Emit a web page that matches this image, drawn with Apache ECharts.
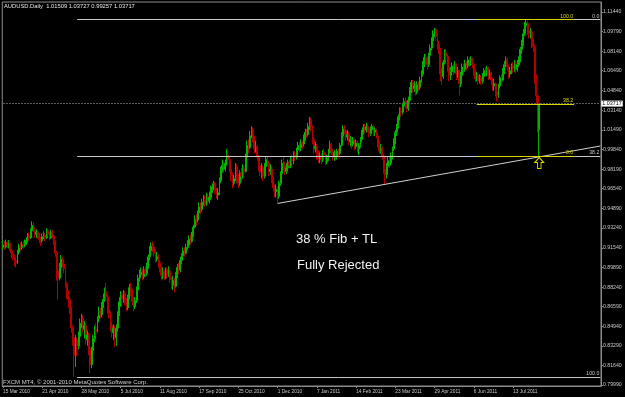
<!DOCTYPE html>
<html>
<head>
<meta charset="utf-8">
<script src="https://cdn.jsdelivr.net/npm/echarts@6/dist/echarts.min.js"></script>
<style>
html,body{margin:0;padding:0;background:#000;}
#chart{width:625px;height:397px;}
</style>
</head>
<body>
<div id="chart"></div>
<script>
// ---- DATA (prices in pips, 1 pip = 0.0001) ----
const symbolName = 'AUDUSD.Daily';
const firstOpen = 9160;
const closes = [
9180,9165,9200,9175,9190,9130,9100,9080,9045,9030,
9120,9170,9160,9185,9175,9195,9220,9255,9240,9300,
9345,9310,9270,9285,9260,9225,9215,9250,9265,9240,
9300,9270,9240,9290,9255,9210,9110,8960,8900,8990,
9060,9020,8980,8850,8760,8720,8650,8480,8400,8250,
8380,8330,8410,8520,8560,8470,8500,8380,8420,8300,
8170,8290,8390,8470,8450,8560,8620,8590,8680,8720,
8790,8740,8640,8600,8500,8440,8480,8400,8480,8600,
8700,8760,8720,8770,8700,8650,8740,8820,8790,8700,
8660,8710,8800,8900,8930,8950,8910,8970,8940,9000,
9080,9130,9170,9160,9110,9060,9080,9030,8980,8920,
8950,8900,8970,8930,8960,8890,8840,8880,8830,8930,
8990,8970,9050,9090,9130,9110,9160,9180,9230,9210,
9270,9330,9400,9390,9450,9500,9480,9540,9560,9520,
9590,9550,9580,9650,9670,9700,9640,9600,9620,9720,
9810,9850,9820,9870,9940,9900,9820,9760,9700,9740,
9840,9760,9700,9790,9760,9820,9800,9920,10020,10000,
10100,10150,10080,9990,10010,9920,9850,9790,9830,9760,
9840,9900,9870,9800,9820,9740,9660,9630,9650,9590,
9700,9780,9870,9850,9800,9830,9880,9850,9900,9890,
9940,9920,9980,10020,10000,10040,10030,10090,10130,10110,
10180,10230,10180,10070,9990,10010,9940,9900,9930,9900,
9960,9940,9880,9910,9960,10030,9970,9920,9960,9930,
9970,9950,10020,10100,10160,10140,10090,10110,10050,10070,
10030,10060,10010,10040,9990,10020,10070,10130,10170,10150,
10180,10160,10120,10150,10180,10130,10150,10100,10030,9970,
9990,9930,9820,9770,9840,9890,9870,9930,9990,10060,
10130,10180,10260,10310,10300,10350,10390,10370,10330,10400,
10480,10550,10500,10520,10470,10530,10510,10570,10620,10700,
10760,10740,10700,10780,10840,10900,10960,11000,10940,10870,
10820,10620,10600,10720,10800,10770,10680,10610,10640,10690,
10660,10700,10620,10650,10540,10610,10680,10660,10710,10690,
10740,10720,10750,10700,10640,10580,10610,10560,10590,10560,
10600,10650,10630,10670,10610,10630,10570,10520,10540,10470,
10440,10520,10590,10570,10640,10700,10740,10680,10620,10650,
10690,10670,10710,10660,10700,10740,10830,10880,10960,11030,
11050,10990,10960,10980,10890,10850,10560,10440,10150.9,10371.7
];
const highs = [
9215,9210,9225,9215,9220,9200,9150,9130,9100,9070,
9140,9190,9200,9210,9210,9225,9245,9280,9285,9320,
9380,9370,9330,9310,9300,9280,9250,9275,9295,9280,
9320,9320,9290,9310,9305,9270,9220,9130,9000,9030,
9095,9080,9040,8990,8870,8800,8740,8660,8500,8420,
8420,8400,8450,8560,8600,8590,8540,8520,8460,8440,
8320,8320,8420,8500,8520,8580,8660,8650,8700,8770,
8820,8860,8760,8680,8620,8530,8510,8500,8510,8620,
8740,8790,8780,8800,8790,8730,8760,8850,8860,8810,
8740,8740,8830,8930,8970,8990,8980,9000,9000,9030,
9100,9170,9200,9210,9190,9140,9120,9100,9050,9000,
8990,8970,8990,8990,9000,8970,8910,8920,8900,8950,
9020,9030,9080,9110,9160,9160,9190,9220,9260,9270,
9290,9350,9430,9440,9470,9540,9540,9570,9600,9600,
9620,9610,9630,9680,9700,9720,9710,9660,9660,9750,
9840,9900,9880,9900,9990,9960,9930,9850,9790,9770,
9870,9860,9780,9810,9830,9860,9850,9950,10060,10070,
10140,10180,10170,10100,10060,10020,9940,9870,9870,9850,
9870,9930,9930,9890,9860,9840,9760,9690,9690,9670,
9720,9800,9900,9920,9880,9870,9900,9900,9930,9940,
9970,9970,10000,10050,10050,10070,10060,10110,10160,10160,
10210,10260,10250,10190,10090,10050,10030,9980,9960,9950,
9980,9990,9960,9940,9990,10060,10040,9990,9980,9970,
9990,9990,10040,10130,10190,10190,10160,10150,10130,10100,
10090,10090,10070,10070,10060,10040,10090,10150,10200,10200,
10210,10200,10180,10180,10200,10190,10170,10160,10120,10060,
10030,10010,9950,9860,9870,9920,9930,9960,10010,10080,
10150,10200,10280,10340,10340,10380,10420,10420,10400,10430,
10510,10570,10570,10560,10540,10560,10560,10600,10650,10730,
10790,10790,10770,10800,10870,10930,10990,11010,11000,10960,
10900,10840,10670,10740,10830,10830,10790,10700,10680,10720,
10710,10730,10710,10680,10660,10640,10710,10710,10740,10730,
10770,10760,10770,10760,10720,10660,10640,10630,10620,10610,
10630,10670,10680,10690,10680,10660,10640,10590,10580,10550,
10500,10540,10610,10620,10670,10730,10770,10760,10700,10680,
10710,10720,10740,10730,10740,10770,10850,10910,11000,11060,
11080,11070,11030,11010,10990,10920,10870,10620,10450,10372.7
];
const lows = [
9140,9140,9150,9155,9150,9110,9070,9050,9000,8990,
9020,9100,9130,9140,9150,9160,9180,9200,9215,9230,
9280,9290,9240,9240,9230,9195,9170,9200,9230,9210,
9230,9250,9215,9230,9235,9180,9080,8880,8720,8880,
8960,8990,8940,8820,8720,8650,8600,8440,8330,8066,
8150,8240,8300,8400,8480,8440,8390,8340,8330,8250,
8100,8140,8270,8360,8410,8440,8530,8560,8570,8650,
8700,8710,8600,8560,8450,8400,8380,8320,8330,8450,
8580,8660,8660,8690,8670,8620,8630,8720,8750,8670,
8620,8640,8690,8780,8870,8900,8880,8890,8910,8920,
8980,9050,9110,9120,9080,9030,9040,8990,8950,8880,
8890,8880,8890,8900,8910,8860,8810,8800,8780,8820,
8900,8930,8950,9020,9060,9080,9100,9140,9160,9180,
9200,9250,9320,9340,9370,9430,9440,9460,9510,9500,
9510,9520,9530,9560,9620,9640,9610,9570,9560,9600,
9700,9790,9790,9800,9850,9860,9790,9720,9660,9680,
9720,9700,9660,9680,9720,9740,9760,9790,9900,9950,
9990,10080,10040,9950,9960,9890,9800,9760,9740,9720,
9740,9820,9840,9760,9770,9700,9630,9580,9580,9530,
9570,9680,9760,9810,9770,9780,9800,9820,9830,9860,
9860,9890,9900,9950,9960,9970,9990,10010,10060,10080,
10100,10150,10140,10030,9950,9960,9900,9870,9870,9860,
9880,9900,9850,9860,9890,9950,9940,9890,9890,9890,
9900,9910,9940,10010,10080,10110,10060,10060,10020,10010,
9990,10010,9980,9990,9960,9940,10000,10050,10110,10120,
10130,10130,10090,10100,10120,10100,10100,10080,10000,9950,
9950,9900,9780,9690,9740,9810,9830,9850,9900,9970,
10030,10100,10160,10230,10260,10280,10320,10330,10300,10310,
10380,10460,10460,10470,10440,10450,10480,10490,10550,10600,
10680,10700,10660,10680,10760,10820,10880,10930,10900,10830,
10790,10560,10530,10580,10700,10730,10640,10560,10570,10610,
10610,10630,10570,10590,10440,10510,10590,10620,10640,10650,
10670,10680,10690,10670,10610,10550,10560,10530,10540,10530,
10540,10570,10600,10600,10570,10580,10530,10480,10480,10430,
10390,10420,10500,10540,10560,10620,10680,10650,10580,10590,
10620,10630,10640,10630,10640,10680,10720,10790,10860,10940,
10990,10950,10920,10920,10840,10810,10540,10360,10130,9925.7
];
// x-axis tick labels, one every 27 daily bars
const dateTicks = ['15 Mar 2010','21 Apr 2010','28 May 2010','5 Jul 2010','11 Aug 2010','17 Sep 2010','25 Oct 2010','1 Dec 2010','7 Jan 2011','14 Feb 2011','23 Mar 2011','29 Apr 2011','6 Jun 2011','13 Jul 2011'];
const barsPerDateTick = 27;
const priceTicks = ['0.79990','0.81640','0.83290','0.84940','0.86590','0.88240','0.89890','0.91540','0.93240','0.94890','0.96540','0.98190','0.99840','1.01490','1.03140','1.04840','1.06490','1.08140','1.09790','1.11440'];
const bidPrice = 1.03717;
// Fibonacci anchors (price) and levels
const fibLevels = [0, 38.2, 100];
const fibWhite = {zero: 1.1080, hundred: 0.8066, fromBar: 51};
const fibYellow = {zero: 0.99257, hundred: 1.1080, fromBar: 326, toBar: 393};
// trend line anchors [bar, price]
const trendFrom = [189, 0.9530];
const trendTo = [411, 1.0014];
const arrowAt = [369, 0.9871];
const annotations = ['38 % Fib + TL', 'Fully Rejected'];
const totalSlots = 412; // bar slots including the empty right margin (chart shift)

// ---- BUILD ----
const P = v => v / 10000;
// FX daily bars open at the previous bar's close
const ohlc = closes.map((c, i) => {
  const o = i === 0 ? firstOpen : closes[i - 1];
  return [P(o), P(c), P(lows[i]), P(highs[i])];
});
const categories = Array.from({length: totalSlots}, (_, i) => String(i));
const lastBar = ohlc[ohlc.length - 1];
const titleText = symbolName + '  ' + [lastBar[0], lastBar[3], lastBar[2], lastBar[1]].map(v => v.toFixed(5)).join(' ');
const lastSlot = totalSlots - 1;

const WHITE = '#c8c8c8', YEL = '#d8d800';
const FONT = 'Liberation Sans, Arial, sans-serif';
function fibPrice(f, lvl) { return f.zero + (f.hundred - f.zero) * lvl / 100; }
function lvlText(l) { return l.toFixed(1); }

const whiteLines = [];
fibLevels.forEach(l => {
  const p = fibPrice(fibWhite, l);
  whiteLines.push([
    {coord: [fibWhite.fromBar, p], lineStyle: {color: WHITE, width: 1, type: 'solid'},
     label: {show: true, formatter: lvlText(l), position: 'insideEndTop', color: WHITE, fontSize: 5.2, fontFamily: FONT, distance: [1, 1]}},
    {coord: [lastSlot, p]}
  ]);
});
whiteLines.push([
  {coord: trendFrom, lineStyle: {color: '#d0d0d0', width: 1, type: 'solid'}, label: {show: false}},
  {coord: trendTo}
]);
whiteLines.push([
  {coord: [0, bidPrice], lineStyle: {color: '#5c5c5c', width: 1, type: [2, 1]},
   label: {show: true, formatter: bidPrice.toFixed(5), position: 'end', distance: 1, color: '#000', backgroundColor: '#fff', padding: [1, 1, 0, 1], fontSize: 5.4, fontFamily: FONT}},
  {coord: [lastSlot, bidPrice]}
]);
const yellowLines = [];
fibLevels.forEach(l => {
  const p = fibPrice(fibYellow, l);
  yellowLines.push([
    {coord: [fibYellow.fromBar, p], lineStyle: {color: YEL, width: 1, type: 'solid'},
     label: {show: true, formatter: lvlText(l), position: 'insideEndTop', color: YEL, fontSize: 5.2, fontFamily: FONT, distance: [1, 1]}},
    {coord: [fibYellow.toBar, p]}
  ]);
});

const chart = echarts.init(document.getElementById('chart'), null, {renderer: 'canvas'});
chart.setOption({
  animation: false,
  backgroundColor: '#000',
  grid: {left: 2, right: 24, top: 2, bottom: 11, show: true, borderColor: '#8c8c8c', borderWidth: 1, backgroundColor: '#000'},
  xAxis: {
    type: 'category', data: categories, boundaryGap: true,
    axisLine: {show: true, lineStyle: {color: '#8c8c8c'}},
    axisTick: {show: true, alignWithLabel: true, length: 2, lineStyle: {color: '#8c8c8c'},
      interval: (i) => i % barsPerDateTick === 0 && i / barsPerDateTick < dateTicks.length},
    axisLabel: {show: true, align: 'left', margin: 3, fontSize: 4.8, fontFamily: FONT, color: '#c8c8c8',
      interval: (i) => i % barsPerDateTick === 0 && i / barsPerDateTick < dateTicks.length,
      formatter: (v, i) => dateTicks[Math.round(Number(v) / barsPerDateTick)] || ''},
    splitLine: {show: false}
  },
  yAxis: {
    type: 'value', position: 'right', min: 0.79906, max: 1.12283, scale: true,
    axisLine: {show: true, lineStyle: {color: '#8c8c8c'}},
    axisTick: {show: true, length: 2, lineStyle: {color: '#8c8c8c'}, customValues: priceTicks.map(Number)},
    axisLabel: {show: true, margin: 2, fontSize: 5.2, fontFamily: FONT, color: '#c8c8c8',
      customValues: priceTicks.map(Number), formatter: v => v.toFixed(5)},
    splitLine: {show: false}
  },
  series: [{
    type: 'candlestick',
    data: ohlc,
    barWidth: 1.4,
    z: 2,
    itemStyle: {color: '#00b400', color0: '#b40000', borderColor: '#00b400', borderColor0: '#b40000', borderWidth: 1},
    markLine: {silent: true, symbol: ['none', 'none'], data: whiteLines, animation: false},
    markPoint: {silent: true, animation: false, data: [{
      coord: arrowAt, symbol: 'path://M5,0 L10,5 L7,5 L7,11 L3,11 L3,5 L0,5 Z', symbolSize: [9, 11],
      itemStyle: {color: 'rgba(0,0,0,0)', borderColor: YEL, borderWidth: 1}, label: {show: false}
    }]}
  }, {
    type: 'line', data: [], z: 5, silent: true,
    markLine: {silent: true, symbol: ['none', 'none'], data: yellowLines, animation: false, z: 6}
  }],
  graphic: [
    {type: 'text', x: 4, y: 6, style: {text: titleText, fill: '#e6e6e6', fontSize: 5.8, fontFamily: FONT, verticalAlign: 'middle'}},
    {type: 'text', x: 3, y: 382, style: {text: 'FXCM MT4, © 2001-2010 MetaQuotes Software Corp.', fill: '#d0d0d0', fontSize: 6, fontFamily: FONT, verticalAlign: 'middle'}},
    {type: 'text', x: 296, y: 239.5, style: {text: annotations[0], fill: '#f2f2f2', fontSize: 13, fontFamily: FONT, verticalAlign: 'middle'}},
    {type: 'text', x: 297, y: 265.5, style: {text: annotations[1], fill: '#f2f2f2', fontSize: 13, fontFamily: FONT, verticalAlign: 'middle'}}
  ]
});
</script>
</body>
</html>
